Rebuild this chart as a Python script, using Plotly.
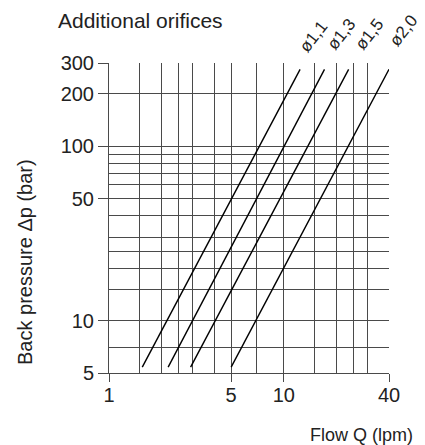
import numpy as np
import plotly.graph_objects as go

# ---- data ----
orifices = ["ø1,1", "ø1,3", "ø1,5", "ø2,0"]
q_start = [1.55, 2.18, 2.93, 5.0]     # lpm at lower end of each line
q_end = [12.4, 17.1, 23.5, 40.0]      # lpm at upper end of each line
dp_start = [5.4, 5.4, 5.4, 5.4]       # bar
dp_end = [276, 276, 276, 276]         # bar

x_grid = [1, 1.5, 2, 2.5, 3, 4, 5, 7, 10, 15, 20, 25, 30, 40]
y_grid = [5, 7, 10, 15, 20, 25, 30, 40, 50, 60, 70, 80, 90, 100, 200, 300]
x_ticks = [1, 5, 10, 40]
y_ticks = [5, 10, 50, 100, 200, 300]

FONT = "Liberation Sans, Arial, Helvetica, sans-serif"
TXT = "#222222"
GRID = "#4a4a4a"

OFF = 8  # default page body margin
W, H = 425 - OFF, 445 - OFF
L, T = 109 - OFF, 63 - OFF
R, B = 425 - 389, 445 - 373
PW, PH = W - L - R, H - T - B


def px(xp):
    return (xp - OFF - L) / PW


def py(yp):
    return 1 - (yp - OFF - T) / PH


fig = go.Figure()

for name, x0, x1, y0, y1 in zip(orifices, q_start, q_end, dp_start, dp_end):
    fig.add_trace(go.Scatter(x=[x0, x1], y=[y0, y1], mode="lines",
                             line=dict(color="black", width=1.4),
                             name=name, showlegend=False, hoverinfo="skip"))

# emphasise the 100 bar line
fig.add_shape(type="line", xref="x", yref="y", x0=0, x1=np.log10(40), y0=2, y1=2,
              line=dict(color="black", width=2))

label_pos = [(314, 37), (341, 34), (369, 34), (404, 31)]
for name, (lx, ly) in zip(orifices, label_pos):
    fig.add_annotation(x=px(lx), y=py(ly), xref="paper", yref="paper",
                       text=name, showarrow=False, textangle=-52,
                       xanchor="center", yanchor="middle",
                       font=dict(family=FONT, size=17, color=TXT))

fig.add_annotation(x=px(56), y=py(20), xref="paper", yref="paper",
                   text="Additional orifices", showarrow=False,
                   xanchor="left", yanchor="middle",
                   font=dict(family=FONT, size=21, color=TXT))
fig.add_annotation(x=px(361), y=py(435), xref="paper", yref="paper",
                   text="Flow Q (lpm)", showarrow=False,
                   xanchor="center", yanchor="middle",
                   font=dict(family=FONT, size=18, color=TXT))
fig.add_annotation(x=px(25), y=py(262), xref="paper", yref="paper",
                   text="Back pressure Δp (bar)", showarrow=False, textangle=-90,
                   xanchor="center", yanchor="middle",
                   font=dict(family=FONT, size=20, color=TXT))

fig.update_layout(
    width=W, height=H,
    margin=dict(l=L, r=R, t=T, b=B, autoexpand=False),
    paper_bgcolor="white", plot_bgcolor="white",
    font=dict(family=FONT, size=18, color=TXT),
    xaxis=dict(type="log", range=[0, np.log10(40)], automargin=False,
               tickvals=x_ticks, ticktext=[str(v) for v in x_ticks],
               ticks="outside", ticklen=8, tickcolor=GRID, tickwidth=1,
               ticklabelstandoff=-4,
               showgrid=False, zeroline=False,
               showline=True, linecolor=GRID, linewidth=1,
               minor=dict(tickvals=x_grid, showgrid=True, gridcolor=GRID,
                          gridwidth=1, ticks=""),
               tickfont=dict(family=FONT, size=20, color=TXT)),
    yaxis=dict(type="log", range=[np.log10(5), np.log10(300)], automargin=False,
               tickvals=y_ticks, ticktext=[str(v) for v in y_ticks],
               ticks="outside", ticklen=10, tickcolor=GRID, tickwidth=1,
               showgrid=False, zeroline=False,
               showline=True, linecolor=GRID, linewidth=1,
               minor=dict(tickvals=y_grid, showgrid=True, gridcolor=GRID,
                          gridwidth=1, ticks=""),
               tickfont=dict(family=FONT, size=20, color=TXT)),
)

fig.write_html("out.html")
